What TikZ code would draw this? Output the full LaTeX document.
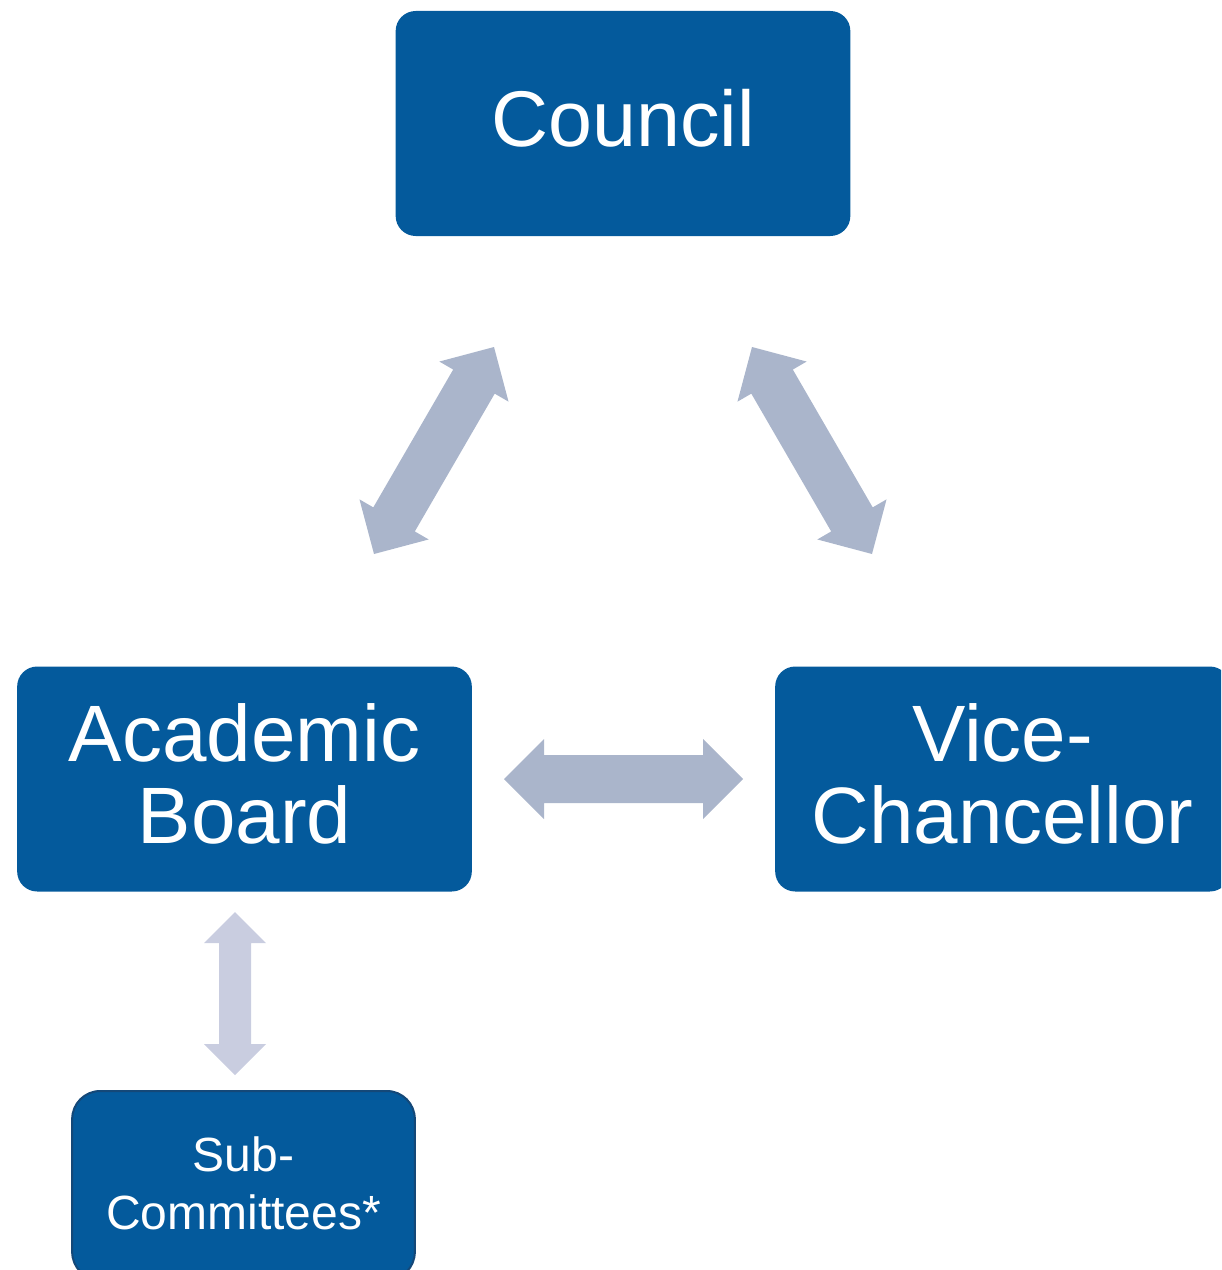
\documentclass[tikz,border=0pt]{standalone}
\usepackage{fontspec}
\setmainfont{Liberation Sans}
\usetikzlibrary{calc}
\definecolor{boxblue}{RGB}{4,90,156}
\definecolor{arrowgray}{RGB}{170,181,203}
\definecolor{arrowlight}{RGB}{201,205,224}
\definecolor{subedge}{RGB}{20,72,120}
\tikzset{
  unitbox/.style={rounded corners=15pt, fill=boxblue, text=white, align=center,
    inner sep=0pt, minimum width=341pt, minimum height=168.75pt},
  bigfont/.style={font=\fontsize{60pt}{61.5pt}\selectfont},
  subbox/.style={rounded corners=21pt, fill=boxblue, draw=subedge, line width=1.5pt,
    text=white, align=center, inner sep=0pt, minimum width=257pt, minimum height=141.75pt,
    font=\fontsize{36pt}{43.5pt}\selectfont},
  dblarrow/.style n args={3}{to path={
    -- ($(\tikztostart)!#2!(\tikztotarget)!#3!90:(\tikztotarget)$)
    -- ($(\tikztostart)!#2!(\tikztotarget)!#1!90:(\tikztotarget)$)
    -- ($(\tikztotarget)!#2!(\tikztostart)!#1!-90:(\tikztostart)$)
    -- ($(\tikztotarget)!#2!(\tikztostart)!#3!-90:(\tikztostart)$)
    -- (\tikztotarget)
    -- ($(\tikztotarget)!#2!(\tikztostart)!#3!90:(\tikztostart)$)
    -- ($(\tikztotarget)!#2!(\tikztostart)!#1!90:(\tikztostart)$)
    -- ($(\tikztostart)!#2!(\tikztotarget)!#1!-90:(\tikztotarget)$)
    -- ($(\tikztostart)!#2!(\tikztotarget)!#3!-90:(\tikztotarget)$)
    -- cycle}},
  bigarrow/.style={fill=arrowgray, dblarrow={18pt}{30pt}{30pt}},
  smallarrow/.style={fill=arrowlight, dblarrow={12pt}{23.25pt}{23.25pt}},
}
\begin{document}
\begin{tikzpicture}[x=0.75pt, y=-0.75pt]
\useasboundingbox (0,0) rectangle (1221,1270);
\clip (0,0) rectangle (1221,1270);
% boxes
\node[unitbox, font=\fontsize{59.25pt}{61.5pt}\selectfont, text depth=8pt] (council) at (623,123.5) {Council};
\node[unitbox, bigfont, text depth=7.5pt] (academic) at (244.5,779) {Academic\\Board};
\node[unitbox, bigfont, text depth=7.5pt] (vc) at (1002.5,779) {Vice-\\Chancellor};
\node[subbox, text depth=3pt] (sub) at (243.5,1185.5) {Sub-\\Committees*};
% arrow end points
\coordinate (abL) at (374,554);
\coordinate (abC) at (494,347);
\coordinate (vcC) at (752,347);
\coordinate (vcR) at (872,554);
\coordinate (hL) at (504,779);
\coordinate (hR) at (743,779);
\coordinate (vT) at (235,912);
\coordinate (vB) at (235,1075);
% arrows
\path[bigarrow] (abL) to (abC);
\path[bigarrow] (vcC) to (vcR);
\path[bigarrow] (hL) to (hR);
\path[smallarrow] (vT) to (vB);
\end{tikzpicture}
\end{document}
